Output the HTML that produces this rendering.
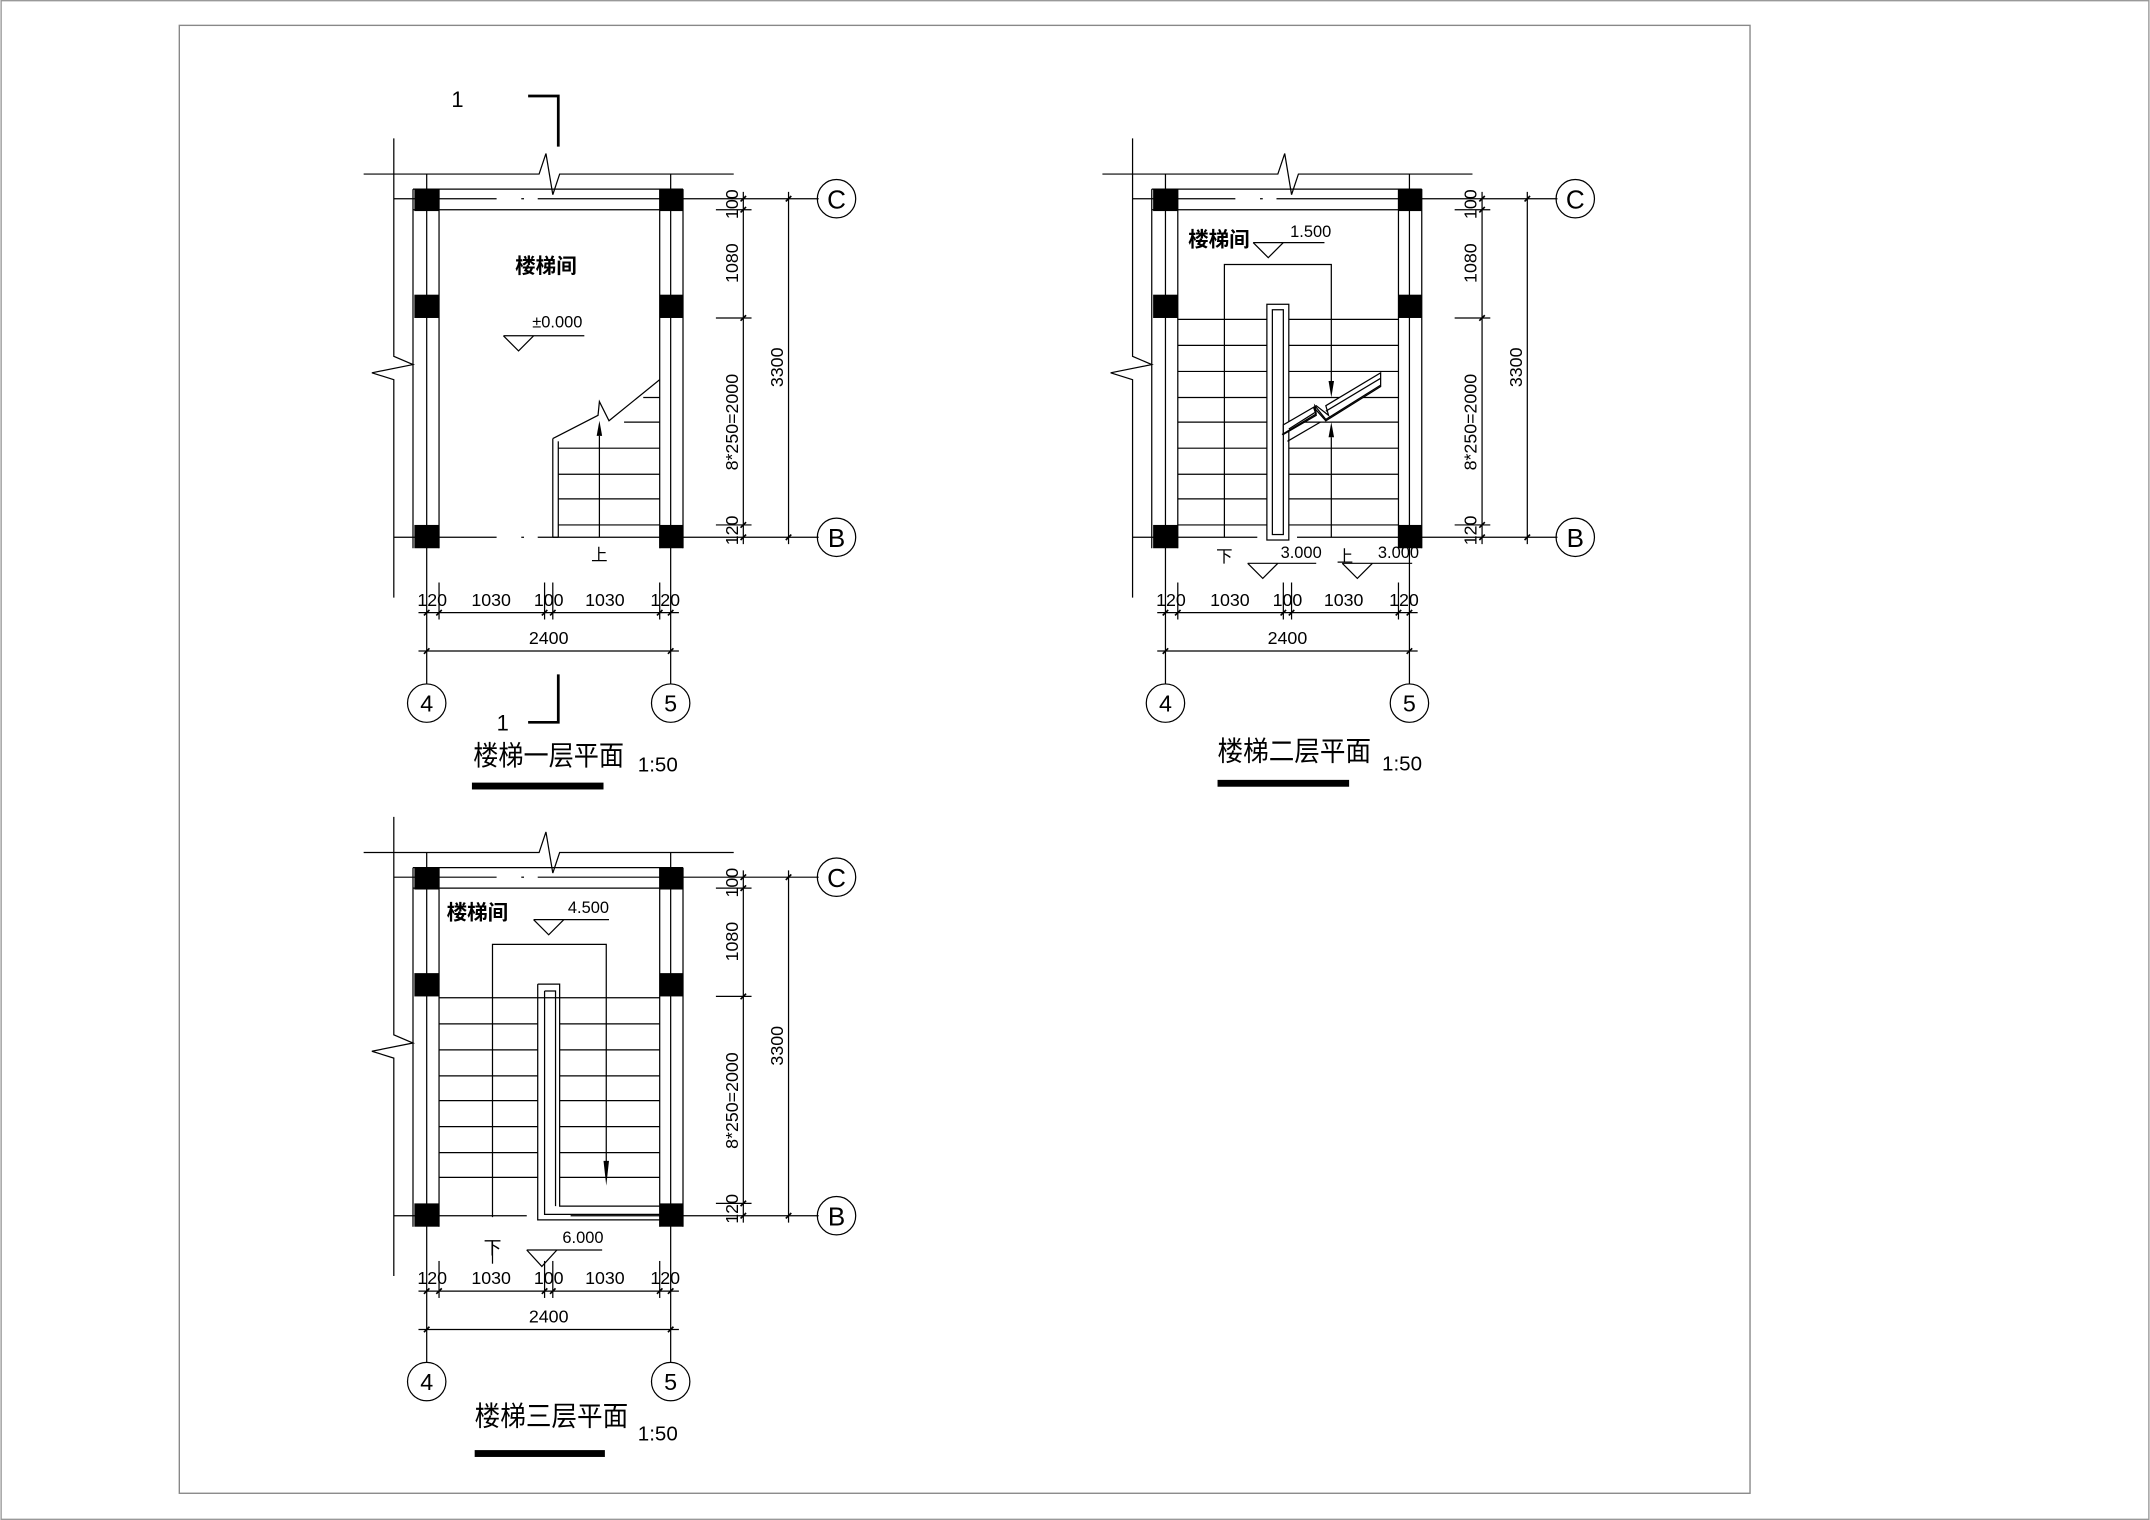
<!DOCTYPE html>
<html><head><meta charset="utf-8"><style>
html,body{margin:0;padding:0;background:#fff;}
svg{display:block;}
text{font-family:"Liberation Sans","Noto Sans CJK SC",sans-serif;fill:#000;}
.cj{font-family:"Noto Sans CJK SC","WenQuanYi Zen Hei",sans-serif;}
</style></head><body>
<svg width="2150" height="1520" viewBox="0 0 1568 1109" xmlns="http://www.w3.org/2000/svg">
<defs>
<g id="shell" fill="none" stroke="#000" stroke-width="0.9">
  <polyline points="265,127 393,127 398,112 403,142 408,127 535,127"/>
  <polyline points="287,101 287,260 301,266 271,272 287,277 287,436"/>
  <line x1="311" y1="127" x2="311" y2="499"/>
  <line x1="489" y1="127" x2="489" y2="499"/>
  <line x1="301" y1="138" x2="301" y2="400"/>
  <line x1="320" y1="138" x2="320" y2="400"/>
  <line x1="481" y1="138" x2="481" y2="400"/>
  <line x1="498" y1="138" x2="498" y2="400"/>
  <line x1="301" y1="138" x2="498" y2="138"/>
  <line x1="287" y1="145" x2="362" y2="145"/>
  <line x1="380" y1="145" x2="382" y2="145"/>
  <line x1="392" y1="145" x2="597" y2="145"/>
  <line x1="301" y1="153" x2="498" y2="153"/>
  <line x1="498" y1="392" x2="597" y2="392"/>
  <line x1="522" y1="153" x2="548" y2="153"/>
  <line x1="522" y1="232" x2="548" y2="232"/>
  <line x1="522" y1="383" x2="548" y2="383"/>
  <line x1="542" y1="140" x2="542" y2="397"/>
  <line x1="575" y1="140" x2="575" y2="397"/>
  <circle cx="610" cy="145" r="14"/>
  <circle cx="610" cy="392" r="14"/>
  <line x1="320" y1="425" x2="320" y2="452"/>
  <line x1="397" y1="425" x2="397" y2="452"/>
  <line x1="403" y1="425" x2="403" y2="452"/>
  <line x1="481" y1="425" x2="481" y2="452"/>
  <line x1="305" y1="447" x2="495" y2="447"/>
  <line x1="305" y1="475" x2="495" y2="475"/>
  <circle cx="311" cy="513" r="14"/>
  <circle cx="489" cy="513" r="14"/>
</g>
<g id="cols" fill="#000">
  <rect x="302" y="138" width="18" height="16"/>
  <rect x="481" y="138" width="17" height="16"/>
  <rect x="302" y="215" width="18" height="17"/>
  <rect x="481" y="215" width="17" height="17"/>
  <rect x="302" y="383" width="18" height="17"/>
  <rect x="481" y="383" width="17" height="17"/>
  <g stroke="#000" stroke-width="1.2">
  <line x1="540" y1="147" x2="544" y2="143"/><line x1="540" y1="155" x2="544" y2="151"/>
  <line x1="540" y1="234" x2="544" y2="230"/><line x1="540" y1="385" x2="544" y2="381"/>
  <line x1="540" y1="394" x2="544" y2="390"/><line x1="573" y1="147" x2="577" y2="143"/>
  <line x1="573" y1="394" x2="577" y2="390"/>
  <line x1="309" y1="449" x2="313" y2="445"/><line x1="318" y1="449" x2="322" y2="445"/>
  <line x1="395" y1="449" x2="399" y2="445"/><line x1="401" y1="449" x2="405" y2="445"/>
  <line x1="479" y1="449" x2="483" y2="445"/><line x1="487" y1="449" x2="491" y2="445"/>
  <line x1="309" y1="477" x2="313" y2="473"/><line x1="487" y1="477" x2="491" y2="473"/>
  </g>
</g>
</defs>

<rect x="0.5" y="0.5" width="1567" height="1108" fill="none" stroke="#999" stroke-width="1"/>
<rect x="130.5" y="18.5" width="1146" height="1071" fill="none" stroke="#888" stroke-width="1"/>

<g>
<use href="#shell"/><use href="#cols"/>
<g fill="none" stroke="#000" stroke-width="0.9">
  <line x1="287" y1="392" x2="362" y2="392"/>
  <line x1="380" y1="392" x2="382" y2="392"/>
  <line x1="392" y1="392" x2="481" y2="392"/>
  <line x1="403" y1="320" x2="403" y2="392"/>
  <line x1="407" y1="322" x2="407" y2="392"/>
  <line x1="403" y1="392" x2="407" y2="392"/>
  <polyline points="403,320 436,303 437,293 444,307 481,277"/>
  <line x1="407" y1="327" x2="481" y2="327"/>
  <line x1="407" y1="346" x2="481" y2="346"/>
  <line x1="407" y1="364" x2="481" y2="364"/>
  <line x1="407" y1="383" x2="481" y2="383"/>
  <line x1="455" y1="308" x2="481" y2="308"/>
  <line x1="469" y1="290" x2="481" y2="290"/>
  <line x1="437" y1="392" x2="437" y2="318"/>
  <polyline points="367,245 426,245"/>
  <polyline points="367,245 378,256 389,245"/>
  <polyline points="385,70 407,70 407,107" stroke-width="2"/>
  <polyline points="385,527 407,527 407,492" stroke-width="2"/>
</g>
<polygon points="435,318 439,318 437,307" fill="#000"/>
<text x="398" y="199" font-size="15" text-anchor="middle" class="cj" font-weight="bold">楼梯间</text>
<text x="388" y="239" font-size="12">±0.000</text>
<text x="437" y="409" font-size="12" text-anchor="middle" class="cj">上</text>
<text x="329" y="78" font-size="16" font-family="Liberation Serif">1</text>
<text x="362" y="533" font-size="16" font-family="Liberation Serif">1</text>
</g>

<g transform="translate(539,0)">
<use href="#shell"/><use href="#cols"/>
<g fill="none" stroke="#000" stroke-width="0.9">
  <line x1="287" y1="392" x2="378" y2="392"/>
  <line x1="407" y1="392" x2="481" y2="392"/>
  <line x1="320" y1="233" x2="481" y2="233"/>
  <line x1="320" y1="252" x2="385" y2="252"/><line x1="401" y1="252" x2="481" y2="252"/>
  <line x1="320" y1="271" x2="385" y2="271"/><line x1="401" y1="271" x2="481" y2="271"/>
  <line x1="320" y1="290" x2="385" y2="290"/><line x1="401" y1="290" x2="481" y2="290"/>
  <line x1="320" y1="308" x2="385" y2="308"/><line x1="401" y1="308" x2="481" y2="308"/>
  <line x1="320" y1="327" x2="385" y2="327"/><line x1="401" y1="327" x2="481" y2="327"/>
  <line x1="320" y1="346" x2="385" y2="346"/><line x1="401" y1="346" x2="481" y2="346"/>
  <line x1="320" y1="364" x2="385" y2="364"/><line x1="401" y1="364" x2="481" y2="364"/>
  <line x1="320" y1="383" x2="385" y2="383"/><line x1="401" y1="383" x2="481" y2="383"/>
  <polyline points="354,392 354,193 432,193 432,278"/>
  <line x1="432" y1="319" x2="432" y2="392"/>
  <rect x="385" y="222" width="16" height="172" fill="#fff"/>
  <rect x="389" y="226" width="8" height="164"/>
  <polygon points="397,317 421,303 419,297 428,307 468,282 468,272 428,296 430,303 421,296 397,310" fill="#fff"/>
  <polyline points="396,317 421,302 420,296 428,306 468,281" />
  <polyline points="400,322 424,308" />
  <line x1="421" y1="303" x2="468" y2="272" stroke="none"/>
  <polyline points="401,313 420,301"/>
  <polyline points="428,300 468,276"/>
  <polyline points="375,177 427,177"/>
  <polyline points="375,177 386,188 397,177"/>
  <polyline points="371,411 421,411"/>
  <polyline points="371,411 382,422 393,411"/>
  <polyline points="440,411 491,411"/>
  <polyline points="440,411 451,422 462,411"/>
</g>
<polygon points="430,278 434,278 432,290" fill="#000"/>
<polygon points="430,319 434,319 432,308" fill="#000"/>
<text x="350" y="180" font-size="15" text-anchor="middle" class="cj" font-weight="bold">楼梯间</text>
<text x="402" y="173" font-size="12">1.500</text>
<text x="354" y="410" font-size="12" text-anchor="middle" class="cj">下</text>
<text x="395" y="407" font-size="12">3.000</text>
<text x="442" y="410" font-size="12" text-anchor="middle" class="cj">上</text>
<text x="466" y="407" font-size="12">3.000</text>
</g>

<g transform="translate(0,495)">
<use href="#shell"/><use href="#cols"/>
<g fill="none" stroke="#000" stroke-width="0.9">
  <line x1="287" y1="392" x2="384" y2="392"/>
  <line x1="416" y1="392" x2="481" y2="392"/>
  <line x1="320" y1="233" x2="481" y2="233"/>
  <line x1="320" y1="252" x2="392" y2="252"/><line x1="408" y1="252" x2="481" y2="252"/>
  <line x1="320" y1="271" x2="392" y2="271"/><line x1="408" y1="271" x2="481" y2="271"/>
  <line x1="320" y1="290" x2="392" y2="290"/><line x1="408" y1="290" x2="481" y2="290"/>
  <line x1="320" y1="308" x2="392" y2="308"/><line x1="408" y1="308" x2="481" y2="308"/>
  <line x1="320" y1="327" x2="392" y2="327"/><line x1="408" y1="327" x2="481" y2="327"/>
  <line x1="320" y1="346" x2="392" y2="346"/><line x1="408" y1="346" x2="481" y2="346"/>
  <line x1="320" y1="364" x2="392" y2="364"/><line x1="408" y1="364" x2="481" y2="364"/>
  <polyline points="359,393 359,194 442,194 442,360"/>
  <path d="M392,223 L408,223 L408,385 L481,385 M392,223 L392,395 L481,395" />
  <path d="M397,228 L405,228 L405,385 M397,228 L397,391 L481,391"/>
  <polyline points="389,176 444,176"/>
  <polyline points="389,176 400,187 411,176"/>
  <polyline points="384,417 439,417"/>
  <polyline points="384,417 395,429 406,417"/>
  <line x1="359" y1="410" x2="359" y2="427"/>
</g>
<polygon points="440,352 444,352 442,370" fill="#000"/>
<text x="348" y="176" font-size="15" text-anchor="middle" class="cj" font-weight="bold">楼梯间</text>
<text x="414" y="171" font-size="12">4.500</text>
<text x="359" y="420" font-size="13" text-anchor="middle" class="cj">下</text>
<text x="410" y="412" font-size="12">6.000</text>
</g>

<g font-size="13">
<g>
<text x="315" y="442" text-anchor="middle">120</text>
<text x="358" y="442" text-anchor="middle">1030</text>
<text x="400" y="442" text-anchor="middle">100</text>
<text x="441" y="442" text-anchor="middle">1030</text>
<text x="485" y="442" text-anchor="middle">120</text>
<text x="400" y="470" text-anchor="middle">2400</text>
<text x="311" y="519" text-anchor="middle" font-size="17">4</text>
<text x="489" y="519" text-anchor="middle" font-size="17">5</text>
<text x="610" y="152" text-anchor="middle" font-size="19" font-family="Liberation Serif">C</text>
<text x="610" y="399" text-anchor="middle" font-size="19" font-family="Liberation Serif">B</text>
<text transform="translate(538,149) rotate(-90)" text-anchor="middle">100</text>
<text transform="translate(538,192) rotate(-90)" text-anchor="middle">1080</text>
<text transform="translate(538,308) rotate(-90)" text-anchor="middle">8*250=2000</text>
<text transform="translate(538,387) rotate(-90)" text-anchor="middle">120</text>
<text transform="translate(571,268) rotate(-90)" text-anchor="middle">3300</text>
<text x="345" y="558" font-size="20" class="cj" textLength="110" lengthAdjust="spacingAndGlyphs">楼梯一层平面</text>
<text x="465" y="563" font-size="15">1:50</text>
<rect x="344" y="571" width="96" height="5" fill="#000"/>
</g>
<g transform="translate(539,0)">
<text x="315" y="442" text-anchor="middle">120</text>
<text x="358" y="442" text-anchor="middle">1030</text>
<text x="400" y="442" text-anchor="middle">100</text>
<text x="441" y="442" text-anchor="middle">1030</text>
<text x="485" y="442" text-anchor="middle">120</text>
<text x="400" y="470" text-anchor="middle">2400</text>
<text x="311" y="519" text-anchor="middle" font-size="17">4</text>
<text x="489" y="519" text-anchor="middle" font-size="17">5</text>
<text x="610" y="152" text-anchor="middle" font-size="19" font-family="Liberation Serif">C</text>
<text x="610" y="399" text-anchor="middle" font-size="19" font-family="Liberation Serif">B</text>
<text transform="translate(538,149) rotate(-90)" text-anchor="middle">100</text>
<text transform="translate(538,192) rotate(-90)" text-anchor="middle">1080</text>
<text transform="translate(538,308) rotate(-90)" text-anchor="middle">8*250=2000</text>
<text transform="translate(538,387) rotate(-90)" text-anchor="middle">120</text>
<text transform="translate(571,268) rotate(-90)" text-anchor="middle">3300</text>
<text x="349" y="555" font-size="20" class="cj" textLength="112" lengthAdjust="spacingAndGlyphs">楼梯二层平面</text>
<text x="469" y="562" font-size="15">1:50</text>
<rect x="349" y="569" width="96" height="5" fill="#000"/>
</g>
<g transform="translate(0,495)">
<text x="315" y="442" text-anchor="middle">120</text>
<text x="358" y="442" text-anchor="middle">1030</text>
<text x="400" y="442" text-anchor="middle">100</text>
<text x="441" y="442" text-anchor="middle">1030</text>
<text x="485" y="442" text-anchor="middle">120</text>
<text x="400" y="470" text-anchor="middle">2400</text>
<text x="311" y="519" text-anchor="middle" font-size="17">4</text>
<text x="489" y="519" text-anchor="middle" font-size="17">5</text>
<text x="610" y="152" text-anchor="middle" font-size="19" font-family="Liberation Serif">C</text>
<text x="610" y="399" text-anchor="middle" font-size="19" font-family="Liberation Serif">B</text>
<text transform="translate(538,149) rotate(-90)" text-anchor="middle">100</text>
<text transform="translate(538,192) rotate(-90)" text-anchor="middle">1080</text>
<text transform="translate(538,308) rotate(-90)" text-anchor="middle">8*250=2000</text>
<text transform="translate(538,387) rotate(-90)" text-anchor="middle">120</text>
<text transform="translate(571,268) rotate(-90)" text-anchor="middle">3300</text>
<text x="346" y="545" font-size="20" class="cj" textLength="112" lengthAdjust="spacingAndGlyphs">楼梯三层平面</text>
<text x="465" y="556" font-size="15">1:50</text>
<rect x="346" y="563" width="95" height="5" fill="#000"/>
</g>
</g>
</svg>
</body></html>
